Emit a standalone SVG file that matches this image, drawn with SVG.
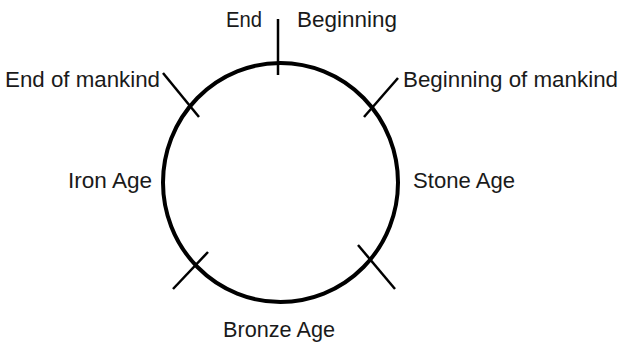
<svg xmlns="http://www.w3.org/2000/svg" width="623" height="346" viewBox="0 0 623 346">
<style>
.t{font-family:"Liberation Sans","Open Sans",sans-serif;font-size:22px;fill:#1a1a1a}
.s{stroke:#000;stroke-width:2.5;fill:none}
</style>
<rect width="623" height="346" fill="#fff"/>
<g id="cycle">
<ellipse cx="280.5" cy="182.5" rx="117.5" ry="119.5" fill="none" stroke="#000" stroke-width="4"/>
</g>
<g id="connectors">
<line class="s" x1="278" y1="19" x2="278" y2="75"/>
<line class="s" x1="163" y1="73" x2="199" y2="117"/>
<line class="s" x1="398" y1="78" x2="364" y2="117"/>
<line class="s" x1="208" y1="252" x2="173" y2="289"/>
<line class="s" x1="358" y1="245" x2="395" y2="289"/>
</g>
<g id="end"><text class="t" x="226" y="27" textLength="36" lengthAdjust="spacingAndGlyphs">End</text></g>
<g id="beginning"><text class="t" x="297" y="27" textLength="100" lengthAdjust="spacingAndGlyphs">Beginning</text></g>
<g id="end-of-mankind"><text class="t" x="5" y="87" textLength="155" lengthAdjust="spacingAndGlyphs">End of mankind</text></g>
<g id="beginning-of-mankind"><text class="t" x="403" y="87" textLength="215" lengthAdjust="spacingAndGlyphs">Beginning of mankind</text></g>
<g id="iron-age"><text class="t" x="68" y="188" textLength="84" lengthAdjust="spacingAndGlyphs">Iron Age</text></g>
<g id="stone-age"><text class="t" x="413" y="188" textLength="102" lengthAdjust="spacingAndGlyphs">Stone Age</text></g>
<g id="bronze-age"><text class="t" x="223" y="337" textLength="112" lengthAdjust="spacingAndGlyphs">Bronze Age</text></g>
</svg>
